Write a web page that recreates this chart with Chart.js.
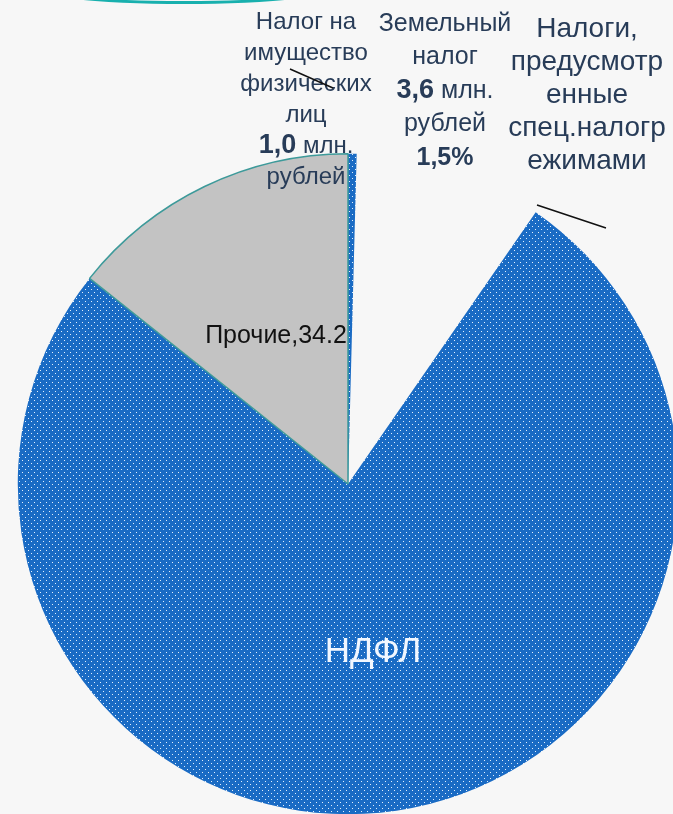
<!DOCTYPE html>
<html>
<head>
<meta charset="utf-8">
<script src="https://cdn.jsdelivr.net/npm/chart.js@4/dist/chart.umd.min.js"></script>
<style>
  html, body { margin: 0; padding: 0; background: #f7f7f7; overflow: hidden; width: 673px; height: 814px; }
  #wrap { position: absolute; left: 0; top: 0; width: 700px; height: 830px; }
  #topArc { position: absolute; left: 24px; top: -32px; width: 320px; height: 33px; border-radius: 50%;
            border-bottom: 3px solid #18b0ae; }
</style>
</head>
<body>
<div id="wrap"><canvas id="pie-chart" width="700" height="830"></canvas></div>
<div id="topArc"></div>
<script>
// налоговые доходы, млн. рублей
var categories = ["Налог на имущество физических лиц", "Земельный налог", "Налоги, предусмотренные спец.налоговыми режимами", "НДФЛ", "Прочие"];
var values = [1.0, 3.6, 18.4, 181.9, 34.2];

// dotted blue fill
function dotPattern() {
  var c = document.createElement("canvas");
  c.width = 6; c.height = 6;
  var x = c.getContext("2d");
  x.fillStyle = "#1a6bc4";
  x.fillRect(0, 0, 6, 6);
  x.fillStyle = "#e4f0fc";
  x.fillRect(1, 1, 1, 1);
  x.fillRect(4, 4, 1, 1);
  return x.createPattern(c, "repeat");
}
var blue = dotPattern();

var navy = "#283c58";
// label blocks: each line is a list of [text, bold, size]
var labels = [
  { x: 306, y: 22, lh: 31, lines: [
    [["Налог на", false, 24]], [["имущество", false, 24]], [["физических", false, 24]],
    [["лиц", false, 24]], [["1,0", true, 27], [" млн.", false, 24]], [["рублей", false, 24]] ] },
  { x: 445, y: 24, lh: 33.5, lines: [
    [["Земельный", false, 25]], [["налог", false, 25]], [["3,6", true, 27], [" млн.", false, 25]],
    [["рублей", false, 25]], [["1,5%", true, 25]] ] },
  { x: 587, y: 29, lh: 33, lines: [
    [["Налоги,", false, 28]], [["предусмотр", false, 28]], [["енные", false, 28]],
    [["спец.налогр", false, 28]], [["ежимами", false, 28]] ] }
];

var textPlugin = {
  id: "texts",
  afterDraw: function (chart) {
    var ctx = chart.ctx;
    ctx.save();
    ctx.textBaseline = "middle";
    ctx.textAlign = "left";
    labels.forEach(function (b) {
      b.lines.forEach(function (runs, i) {
        var w = 0;
        runs.forEach(function (r) {
          ctx.font = (r[1] ? "bold " : "") + r[2] + "px 'Liberation Sans', Arial, sans-serif";
          w += ctx.measureText(r[0]).width;
        });
        var cx = b.x - w / 2;
        runs.forEach(function (r) {
          ctx.font = (r[1] ? "bold " : "") + r[2] + "px 'Liberation Sans', Arial, sans-serif";
          ctx.fillStyle = navy;
          ctx.fillText(r[0], cx, b.y + i * b.lh);
          cx += ctx.measureText(r[0]).width;
        });
      });
    });
    // leader lines
    ctx.strokeStyle = "#111";
    ctx.lineWidth = 1.5;
    ctx.beginPath();
    ctx.moveTo(290, 69); ctx.lineTo(333, 88);
    ctx.moveTo(537, 205); ctx.lineTo(606, 228);
    ctx.stroke();
    // inner labels
    ctx.textAlign = "center";
    ctx.font = "25px 'Liberation Sans', Arial, sans-serif";
    ctx.fillStyle = "#111";
    ctx.fillText(categories[4] + "," + values[4], 276, 336);
    ctx.font = "35px 'Liberation Sans', Arial, sans-serif";
    ctx.fillStyle = "#f2f7ff";
    ctx.fillText(categories[3], 373, 652);
    ctx.restore();
  }
};

new Chart(document.getElementById("pie-chart"), {
  type: 'pie',
  data: {
    labels: categories,
    datasets: [{
      data: values,
      backgroundColor: [blue, "rgba(0,0,0,0)", "rgba(0,0,0,0)", blue, "#c3c3c3"],
      borderColor: ["rgba(0,0,0,0)", "rgba(0,0,0,0)", "rgba(0,0,0,0)", "rgba(0,0,0,0)", "#3d9a9a"],
      borderWidth: [0, 0, 0, 0, 1.5]
    }]
  },
  options: {
    responsive: false,
    animation: false,
    events: [],
    layout: { padding: { left: 17, top: 153, right: 21, bottom: 15 } },
    plugins: {
      legend: { display: false },
      tooltip: { enabled: false },
      title: { display: false }
    }
  },
  plugins: [textPlugin]
});
</script>
</body>
</html>
